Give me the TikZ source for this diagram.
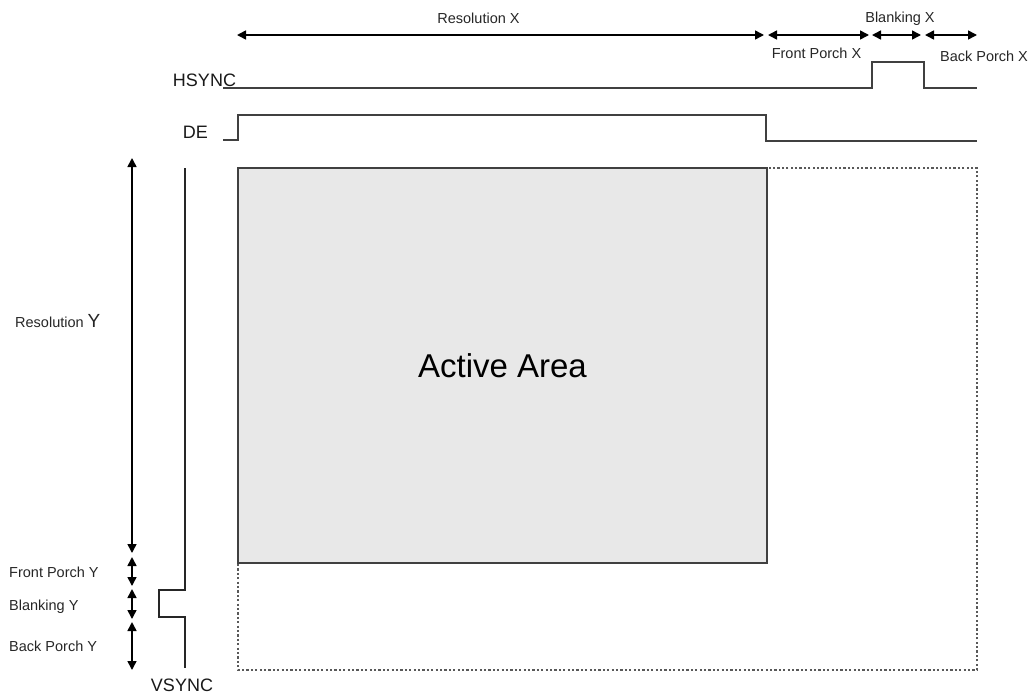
\documentclass[tikz,border=0pt]{standalone}
\usepackage{fontspec}
\setmainfont{Liberation Sans}
\usetikzlibrary{arrows.meta}
\begin{document}
\begin{tikzpicture}[x=1pt,y=-1pt,
  sig/.style={draw=black!75, line width=2.2pt, line join=miter},
  dimline/.style={draw=black, line width=1.6pt, {Triangle[length=9pt,width=9pt]}-{Triangle[length=9pt,width=9pt]}},
  lbl/.style={font=\fontsize{14.5}{16}\selectfont, text=black!85, inner sep=0pt},
  biglbl/.style={font=\fontsize{18}{20}\selectfont, text=black!90, inner sep=0pt},
]
\useasboundingbox (0,0) rectangle (1034,694);

% frame areas
\draw[draw=black!65, line width=2.4pt, dash pattern=on 2.2pt off 2.2pt] (238,168) rectangle (977,670);
\draw[fill=black!9, draw=black!75, line width=2.2pt] (238,168) rectangle (767,563);
\node[font=\fontsize{33}{36}\selectfont, inner sep=0pt, anchor=base] (active) at (502.5,377) {Active Area};

% horizontal dimension coordinates
\coordinate (xa) at (237,35);
\coordinate (xb) at (764,35);
\coordinate (xc) at (768,35);
\coordinate (xd) at (869,35);
\coordinate (xe) at (872,35);
\coordinate (xf) at (921,35);
\coordinate (xg) at (925,35);
\coordinate (xh) at (977,35);
\draw[dimline] (xa) -- (xb);
\draw[dimline] (xc) -- (xd);
\draw[dimline] (xe) -- (xf);
\draw[dimline] (xg) -- (xh);

% vertical dimension coordinates
\coordinate (ya) at (132,158);
\coordinate (yb) at (132,553);
\coordinate (yc) at (132,557);
\coordinate (yd) at (132,586);
\coordinate (ye) at (132,589);
\coordinate (yf) at (132,619);
\coordinate (yg) at (132,622);
\coordinate (yh) at (132,670);
\draw[dimline] (ya) -- (yb);
\draw[dimline] (yc) -- (yd);
\draw[dimline] (ye) -- (yf);
\draw[dimline] (yg) -- (yh);

% labels
\node[lbl, anchor=base] (resx) at (478.5,23) {Resolution X};
\node[lbl, anchor=base] (blx) at (900,22) {Blanking X};
\node[lbl, anchor=base] (fpx) at (816.5,58) {Front Porch X};
\node[lbl, anchor=base] (bpx) at (984,61) {Back Porch X};
\node[lbl, anchor=base west] (resy) at (15,327) {Resolution {\fontsize{19}{20}\selectfont Y}};
\node[lbl, anchor=base west] (fpy) at (9,577) {Front Porch Y};
\node[lbl, anchor=base west] (bly) at (9,610) {Blanking Y};
\node[lbl, anchor=base west] (bpy) at (9,651) {Back Porch Y};
\node[biglbl, anchor=base] (hs) at (204.5,86) {HSYNC};
\node[biglbl, anchor=base] (de) at (195.5,138) {DE};
\node[biglbl, anchor=base] (vs) at (182,691) {VSYNC};

% HSYNC waveform
\coordinate (h0) at (223,88);
\coordinate (h1) at (872,88);
\coordinate (h2) at (872,62);
\coordinate (h3) at (924,62);
\coordinate (h4) at (924,88);
\coordinate (h5) at (977,88);
\draw[sig] (h0) -- (h1) -- (h2) -- (h3) -- (h4) -- (h5);

% DE waveform
\coordinate (d0) at (223,140);
\coordinate (d1) at (238,140);
\coordinate (d2) at (238,115);
\coordinate (d3) at (766,115);
\coordinate (d4) at (766,141);
\coordinate (d5) at (977,141);
\draw[sig] (d0) -- (d1) -- (d2) -- (d3) -- (d4) -- (d5);

% VSYNC waveform
\coordinate (v0) at (185,168);
\coordinate (v1) at (185,590);
\coordinate (v2) at (159,590);
\coordinate (v3) at (159,617);
\coordinate (v4) at (185,617);
\coordinate (v5) at (185,668);
\draw[sig, line width=1.7pt, draw=black!85] (v0) -- (v1) -- (v2) -- (v3) -- (v4) -- (v5);
\end{tikzpicture}
\end{document}
